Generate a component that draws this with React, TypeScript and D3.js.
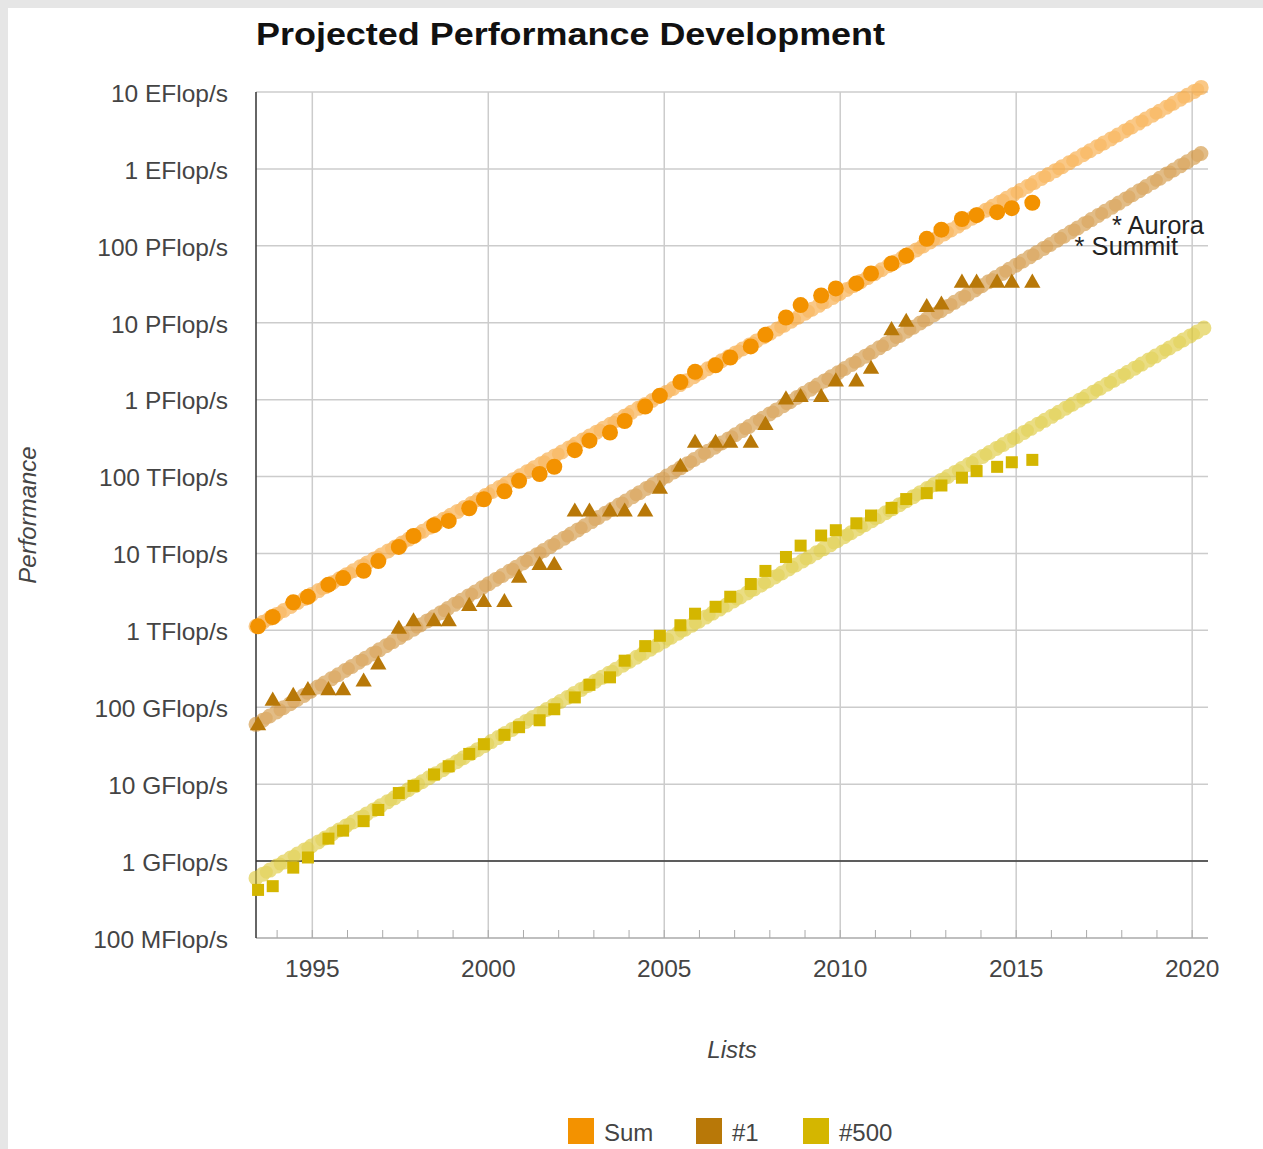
import * as d3 from 'd3';

// TOP500 list dates (June / November)
const lists = [
  '1993-06', '1993-11', '1994-06', '1994-11', '1995-06', '1995-11', '1996-06', '1996-11',
  '1997-06', '1997-11', '1998-06', '1998-11', '1999-06', '1999-11', '2000-06', '2000-11',
  '2001-06', '2001-11', '2002-06', '2002-11', '2003-06', '2003-11', '2004-06', '2004-11',
  '2005-06', '2005-11', '2006-06', '2006-11', '2007-06', '2007-11', '2008-06', '2008-11',
  '2009-06', '2009-11', '2010-06', '2010-11', '2011-06', '2011-11', '2012-06', '2012-11',
  '2013-06', '2013-11', '2014-06', '2014-11', '2015-06',
];

// performance in GFlop/s
const sumValues = [
  1128, 1493, 2318, 2732, 3930, 4783, 5951, 7963,
  12170, 16850, 23300, 26500, 38700, 50700, 64300, 88000,
  108000, 134000, 220000, 293000, 374000, 527000, 813000, 1127000,
  1690000, 2300000, 2790000, 3530000, 4920000, 6970000, 11700000, 16950000,
  22600000, 27950000, 32400000, 43700000, 58900000, 74200000, 123400000, 162000000,
  223000000, 250000000, 274000000, 309000000, 363000000,
];
const firstValues = [
  59.7, 124.5, 143.4, 170.4, 170.4, 170.4, 220.4, 368.2,
  1068, 1338, 1338, 1338, 2121, 2379, 2379, 4938,
  7226, 7226, 35860, 35860, 35860, 35860, 35860, 70720,
  136800, 280600, 280600, 280600, 280600, 478200, 1026000, 1105000,
  1105000, 1759000, 1759000, 2566000, 8162000, 10510000, 16320000, 17590000,
  33860000, 33860000, 33860000, 33860000, 33860000,
];
const lastValues = [
  0.422, 0.472, 0.822, 1.114, 1.96, 2.489, 3.306, 4.62,
  7.67, 9.51, 13.39, 17.1, 24.73, 33.1, 43.82, 55.1,
  67.78, 94.3, 134.3, 195.8, 245.1, 403.4, 624, 850.6,
  1166, 1646, 2026, 2737, 4005, 5929, 9000, 12640,
  17100, 20050, 24670, 31120, 39090, 50940, 60820, 76500,
  96620, 117800, 133700, 153400, 164700,
];

// projection trend endpoints [year, GFlop/s]
const sumTrend: [number, number][] = [[1993.4, 1130], [2020.4, 1.25e10]];
const firstTrend: [number, number][] = [[1993.4, 60], [2020.4, 1.75e9]];
const lastTrend: [number, number][] = [[1993.4, 0.6], [2020.4, 8.9e6]];

const yTickValues = [0.1, 1, 10, 100, 1e3, 1e4, 1e5, 1e6, 1e7, 1e8, 1e9, 1e10];
const yTickLabels = [
  '100 MFlop/s', '1 GFlop/s', '10 GFlop/s', '100 GFlop/s', '1 TFlop/s', '10 TFlop/s',
  '100 TFlop/s', '1 PFlop/s', '10 PFlop/s', '100 PFlop/s', '1 EFlop/s', '10 EFlop/s',
];
const xTickYears = [1995, 2000, 2005, 2010, 2015, 2020];

const annotations = [
  { label: '* Aurora', year: 2017.72, value: 1.85e8 },
  { label: '* Summit', year: 2016.66, value: 0.98e8 },
];

const legendItems = [
  { name: 'Sum', color: '#f39200' },
  { name: '#1', color: '#b87808' },
  { name: '#500', color: '#d4b600' },
];

const W = 1263;
const H = 1149;
const left = 256, right = 1208, top = 92, bottom = 938;
const FONT = '"Liberation Sans", Arial, sans-serif';

const listYear = (s: string) => {
  const [y, m] = s.split('-').map(Number);
  return y + (m - 0.5) / 12;
};

export default function App() {
  const x = d3.scaleLinear().domain([1993.4, 2020.45]).range([left, right]);
  const y = d3.scaleLog().domain([0.1, 1e10]).range([bottom, top]);
  const line = d3.line<[number, number]>().x(d => x(d[0])).y(d => y(d[1]));
  const minorYears = d3.range(1994, 2021);
  const tri = d3.symbol().type(d3.symbolTriangle).size(115)() as string;

  const trend = (data: [number, number][], color: string) => (
    <g>
      <path d={line(data) as string} stroke={color} strokeWidth={15} strokeLinecap="round"
        strokeDasharray="0 8" fill="none" opacity={0.6} />
      <path d={line(data) as string} stroke={color} strokeWidth={13} strokeLinecap="round"
        strokeDasharray="0 16" strokeDashoffset={4} fill="none" opacity={0.3} />
    </g>
  );

  return (
    <svg width={W} height={H} style={{ position: 'absolute', left: 0, top: 0, background: '#fff' }}
      fontFamily={FONT}>
      <rect x={0} y={0} width={W} height={8} fill="#e6e6e6" />
      <rect x={0} y={0} width={8} height={H} fill="#e6e6e6" />

      <text x={256} y={45} fontSize={31} fontWeight="bold" fill="#111" textLength={629}
        lengthAdjust="spacingAndGlyphs">Projected Performance Development</text>

      {/* grid */}
      {yTickValues.slice(1).map(v => (
        <line key={v} x1={left} x2={right} y1={y(v)} y2={y(v)} stroke="#cccccc" strokeWidth={1.5} />
      ))}
      {xTickYears.map(v => (
        <line key={v} x1={x(v)} x2={x(v)} y1={top} y2={bottom} stroke="#cccccc" strokeWidth={1.5} />
      ))}
      <line x1={left} x2={right} y1={y(1)} y2={y(1)} stroke="#333" strokeWidth={1.5} />
      <line x1={left} x2={right} y1={bottom} y2={bottom} stroke="#aaa" strokeWidth={1.5} />
      {minorYears.map(v => (
        <line key={v} x1={x(v)} x2={x(v)} y1={bottom} y2={bottom - 8} stroke="#aaa" strokeWidth={1} />
      ))}
      <line x1={left} x2={left} y1={top} y2={bottom} stroke="#333" strokeWidth={1.5} />

      {/* axis labels */}
      {yTickValues.map((v, i) => (
        <text key={v} x={228} y={y(v)} dy="0.4em" textAnchor="end" fontSize={24.5} fill="#444">{yTickLabels[i]}</text>
      ))}
      {xTickYears.map(v => (
        <text key={v} x={x(v)} y={977} textAnchor="middle" fontSize={24.5} fill="#444">{v}</text>
      ))}

      <text transform="translate(36,515) rotate(-90)" textAnchor="middle" fontSize={24}
        fontStyle="italic" fill="#444">Performance</text>
      <text x={732} y={1058} textAnchor="middle" fontSize={24} fontStyle="italic" fill="#444">Lists</text>

      {/* trends */}
      {trend(sumTrend, '#f7a435')}
      {trend(firstTrend, '#cf9035')}
      {trend(lastTrend, '#dcc630')}

      {/* data */}
      {lists.map((l, i) => (
        <circle key={'s' + l} cx={x(listYear(l))} cy={y(sumValues[i])} r={8} fill={legendItems[0].color} />
      ))}
      {lists.map((l, i) => (
        <path key={'f' + l} d={tri} transform={`translate(${x(listYear(l))},${y(firstValues[i]) + 1})`}
          fill={legendItems[1].color} />
      ))}
      {lists.map((l, i) => (
        <rect key={'l' + l} x={x(listYear(l)) - 6} y={y(lastValues[i]) - 6} width={12} height={12}
          fill={legendItems[2].color} />
      ))}

      {annotations.map(a => (
        <text key={a.label} x={x(a.year)} y={y(a.value)} dy="0.35em" fontSize={25.5} fill="#222">{a.label}</text>
      ))}

      {/* legend */}
      {legendItems.map((it, i) => {
        const lx = [568, 696, 803][i];
        return (
          <g key={it.name}>
            <rect x={lx} y={1118} width={26} height={26} fill={it.color} />
            <text x={lx + 36} y={1141} fontSize={24} fill="#444">{it.name}</text>
          </g>
        );
      })}
    </svg>
  );
}
